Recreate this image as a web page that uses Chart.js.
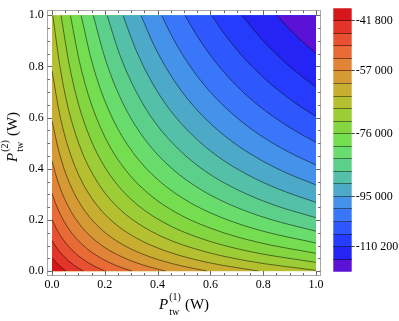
<!DOCTYPE html>
<html>
<head>
<meta charset="utf-8">
<script src="https://cdn.jsdelivr.net/npm/chart.js@4.4.1/dist/chart.umd.min.js"></script>
<style>
  html, body { margin: 0; padding: 0; background: #fff; }
  #wrap { position: relative; width: 399px; height: 321px; overflow: hidden; }
  #plot { position: absolute; left: 0; top: 0; }
  #legend { position: absolute; left: 325px; top: 0; }
  .title { position: absolute; font-family: 'Liberation Serif', 'Times New Roman', serif; font-size: 15px; color: #000; white-space: nowrap; line-height: 15px; }
  .title i { font-style: italic; }
  .scripts { position: relative; display: inline-block; width: 12px; height: 15px; margin-left: 1px; }
  .scripts span { position: absolute; left: 0; font-size: 10px; line-height: 11px; }
  .scripts .sup { top: -3px; }
  .scripts .sub { top: 12px; }
  #xt { left: 184px; top: 303px; transform: translate(-50%, -50%); }
  #yt { left: 11px; top: 137px; transform: translate(-50%, -50%) rotate(-90deg); }
</style>
</head>
<body>
<div id="wrap">
  <canvas id="plot" width="330" height="321"></canvas>
  <canvas id="legend" width="74" height="321"></canvas>
  <div class="title" id="xt"><i>P</i><span class="scripts"><span class="sup">(1)</span><span class="sub">tw</span></span> (W)</div>
  <div class="title" id="yt"><i>P</i><span class="scripts"><span class="sup">(2)</span><span class="sub">tw</span></span> (W)</div>
</div>
<script>
// ── Data ───────────────────────────────────────────────────────────────────
const xTicks = [0, 0.2, 0.4, 0.6, 0.8, 1];
const yTicks = [0, 0.2, 0.4, 0.6, 0.8, 1];
const valueRange = [-117800, -38000];
const barTicks = [-41800, -57000, -76000, -95000, -110200];
const levels = [-41800, -45600, -49400, -53200, -57000, -60800, -64600, -68400, -72200, -76000,
                -79800, -83600, -87400, -91200, -95000, -98800, -102600, -106400, -110200, -114000];

// one contour per level: points along the line (P1, P2)
const contourX = [
  [0, 0.0059, 0.0120, 0.0181, 0.0248, 0.0317, 0.0387, 0.0460, 0.0535],
  [0, 0.0113, 0.0233, 0.0366, 0.0512, 0.0668, 0.0835, 0.1011, 0.1195],
  [0, 0.0162, 0.0345, 0.0554, 0.0794, 0.1062, 0.1354, 0.1673, 0.2020],
  [0, 0.0208, 0.0453, 0.0745, 0.1093, 0.1496, 0.1955, 0.2466, 0.3039],
  [0, 0.0253, 0.0560, 0.0937, 0.1411, 0.1985, 0.2648, 0.3415, 0.4310],
  [0, 0.0295, 0.0662, 0.1134, 0.1750, 0.2523, 0.3448, 0.4558, 0.5885],
  [0, 0.0335, 0.0765, 0.1335, 0.2111, 0.3127, 0.4380, 0.5930, 0.7844],
  [0.0030, 0.0399, 0.0888, 0.1556, 0.2493, 0.3762, 0.5371, 0.7412, 1],
  [0.0342, 0.0743, 0.1263, 0.1955, 0.2900, 0.4145, 0.5688, 0.7617, 1],
  [0.0697, 0.1126, 0.1675, 0.2386, 0.3331, 0.4538, 0.6018, 0.7816, 1],
  [0.1102, 0.1558, 0.2127, 0.2852, 0.3787, 0.4953, 0.6347, 0.8011, 1],
  [0.1563, 0.2043, 0.2628, 0.3354, 0.4270, 0.5383, 0.6687, 0.8213, 1],
  [0.2088, 0.2583, 0.3180, 0.3896, 0.4780, 0.5823, 0.7030, 0.8416, 1],
  [0.2688, 0.3194, 0.3785, 0.4480, 0.5318, 0.6285, 0.7378, 0.8616, 1],
  [0.3370, 0.3872, 0.4447, 0.5110, 0.5885, 0.6764, 0.7737, 0.8812, 1],
  [0.4150, 0.4634, 0.5176, 0.5788, 0.6481, 0.7251, 0.8091, 0.9004, 1],
  [0.5033, 0.5486, 0.5979, 0.6517, 0.7117, 0.7771, 0.8468, 0.9210, 1],
  [0.6048, 0.6431, 0.6856, 0.7299, 0.7788, 0.8301, 0.8840, 0.9412, 1],
  [0.7194, 0.7499, 0.7814, 0.8138, 0.8492, 0.8848, 0.9223, 0.9611, 1],
  [0.8514, 0.8686, 0.8859, 0.9037, 0.9228, 0.9421, 0.9614, 0.9806, 1]
];
const contourY = [
  [0.0535, 0.0460, 0.0387, 0.0317, 0.0248, 0.0181, 0.0120, 0.0059, 0],
  [0.1195, 0.1011, 0.0835, 0.0668, 0.0512, 0.0366, 0.0233, 0.0113, 0],
  [0.2020, 0.1673, 0.1354, 0.1062, 0.0794, 0.0554, 0.0345, 0.0162, 0],
  [0.3039, 0.2466, 0.1955, 0.1496, 0.1093, 0.0745, 0.0453, 0.0208, 0],
  [0.4310, 0.3415, 0.2648, 0.1985, 0.1411, 0.0937, 0.0560, 0.0253, 0],
  [0.5885, 0.4558, 0.3448, 0.2523, 0.1750, 0.1134, 0.0662, 0.0295, 0],
  [0.7844, 0.5930, 0.4380, 0.3127, 0.2111, 0.1335, 0.0765, 0.0335, 0],
  [1, 0.7412, 0.5371, 0.3762, 0.2493, 0.1556, 0.0888, 0.0399, 0.0030],
  [1, 0.7617, 0.5688, 0.4145, 0.2900, 0.1955, 0.1263, 0.0743, 0.0342],
  [1, 0.7816, 0.6018, 0.4538, 0.3331, 0.2386, 0.1675, 0.1126, 0.0697],
  [1, 0.8011, 0.6347, 0.4953, 0.3787, 0.2852, 0.2127, 0.1558, 0.1102],
  [1, 0.8213, 0.6687, 0.5383, 0.4270, 0.3354, 0.2628, 0.2043, 0.1563],
  [1, 0.8416, 0.7030, 0.5823, 0.4780, 0.3896, 0.3180, 0.2583, 0.2088],
  [1, 0.8616, 0.7378, 0.6285, 0.5318, 0.4480, 0.3785, 0.3194, 0.2688],
  [1, 0.8812, 0.7737, 0.6764, 0.5885, 0.5110, 0.4447, 0.3872, 0.3370],
  [1, 0.9004, 0.8091, 0.7251, 0.6481, 0.5788, 0.5176, 0.4634, 0.4150],
  [1, 0.9210, 0.8468, 0.7771, 0.7117, 0.6517, 0.5979, 0.5486, 0.5033],
  [1, 0.9412, 0.8840, 0.8301, 0.7788, 0.7299, 0.6856, 0.6431, 0.6048],
  [1, 0.9611, 0.9223, 0.8848, 0.8492, 0.8138, 0.7814, 0.7499, 0.7194],
  [1, 0.9806, 0.9614, 0.9421, 0.9228, 0.9037, 0.8859, 0.8686, 0.8514]
];

// band colours, highest band (top of the legend) first
const bandColors = [
  'rgb(213,22,26)', 'rgb(226,52,40)', 'rgb(231,80,48)', 'rgb(232,107,54)', 'rgb(226,132,56)',
  'rgb(214,154,52)', 'rgb(200,174,48)', 'rgb(180,192,48)', 'rgb(156,204,54)', 'rgb(132,214,64)',
  'rgb(116,221,80)', 'rgb(104,220,108)', 'rgb(92,208,138)', 'rgb(84,192,168)', 'rgb(76,170,200)',
  'rgb(68,146,234)', 'rgb(58,118,250)', 'rgb(46,88,254)', 'rgb(38,60,252)', 'rgb(36,36,244)',
  'rgb(92,18,214)'
];

// ── Shared styles ──────────────────────────────────────────────────────────
const serif = "'Liberation Serif', 'Times New Roman', serif";
const lineColor = 'rgba(0,0,0,0.55)';
const frameColor = '#a8a8a8';
const tickColor = '#6a6a6a';

// contours that close on the left/bottom edges bound the high (inner) side
const innerCount = contourY.filter(ys => ys[0] < 1).length;

const contourSets = contourX.map((xs, j) => {
  const inner = j < innerCount;
  return {
    data: xs.map((x, i) => ({ x, y: contourY[j][i] })),
    backgroundColor: inner ? bandColors[j] : bandColors[j + 1],
    fill: inner ? { value: yTicks[0] } : { value: yTicks[yTicks.length - 1] },
    borderColor: lineColor,
    borderWidth: 0.9,
    tension: 0.35,
    pointRadius: 0,
    clip: -5,
    order: inner ? 50 + j : 50 - j
  };
});

// ── Plugins for the main panel ─────────────────────────────────────────────
const basePlugin = {
  id: 'base',
  beforeDatasetsDraw(chart) {
    const { ctx, scales: { x, y } } = chart;
    const x0 = x.getPixelForValue(xTicks[0]), x1 = x.getPixelForValue(xTicks[xTicks.length - 1]);
    const y0 = y.getPixelForValue(yTicks[0]), y1 = y.getPixelForValue(yTicks[yTicks.length - 1]);
    ctx.save();
    ctx.fillStyle = bandColors[innerCount];
    ctx.fillRect(x0, y1, x1 - x0, y0 - y1);
    ctx.restore();
  }
};

const framePlugin = {
  id: 'frame',
  afterDraw(chart) {
    const { ctx, chartArea: a, scales: { x, y } } = chart;
    const L = Math.round(a.left) + 0.5, R = Math.round(a.right) - 0.5;
    const T = Math.round(a.top) + 0.5, B = Math.round(a.bottom) - 0.5;
    ctx.save();
    ctx.lineWidth = 1;
    ctx.strokeStyle = frameColor;
    ctx.strokeRect(L, T, R - L, B - T);
    ctx.strokeStyle = tickColor;
    ctx.beginPath();
    const sub = 4, step = (xTicks[1] - xTicks[0]) / sub;
    const n = (xTicks.length - 1) * sub;
    for (let k = 0; k <= n; k++) {
      const v = xTicks[0] + k * step;
      const len = k % sub === 0 ? 4.5 : 2.5;
      const px = Math.round(x.getPixelForValue(v)) + 0.5;
      const py = Math.round(y.getPixelForValue(v)) + 0.5;
      ctx.moveTo(px, B); ctx.lineTo(px, B - len);
      ctx.moveTo(px, T); ctx.lineTo(px, T + len);
      ctx.moveTo(L, py); ctx.lineTo(L + len, py);
      ctx.moveTo(R, py); ctx.lineTo(R - len, py);
    }
    ctx.stroke();
    ctx.restore();
  }
};

const tickFont = { family: serif, size: 12 };

// ── Contour panel ──────────────────────────────────────────────────────────
new Chart(document.getElementById('plot'), {
  type: 'line',
  data: { datasets: contourSets },
  options: {
    responsive: false,
    animation: false,
    events: [],
    layout: { padding: { top: 3, right: 8.7, left: 0, bottom: 0 } },
    plugins: { legend: { display: false }, tooltip: { enabled: false } },
    scales: {
      x: {
        type: 'linear', min: -0.02, max: 1.02,
        afterFit: s => { s.height = 44.7; },
        afterBuildTicks: s => { s.ticks = xTicks.map(v => ({ value: v })); },
        ticks: { callback: v => v.toFixed(1), padding: 1, color: '#000', font: tickFont, maxRotation: 0, autoSkip: false },
        grid: { display: false, drawTicks: false },
        border: { display: false }
      },
      y: {
        type: 'linear', min: -0.02, max: 1.02,
        afterFit: s => { s.width = 46.7; },
        afterBuildTicks: s => { s.ticks = yTicks.map(v => ({ value: v })); },
        ticks: { callback: v => v.toFixed(1), padding: 3, color: '#000', font: tickFont, autoSkip: false },
        grid: { display: false, drawTicks: false },
        border: { display: false }
      }
    }
  },
  plugins: [basePlugin, framePlugin]
});

// ── Colour bar ─────────────────────────────────────────────────────────────
const edges = [valueRange[1], ...levels, valueRange[0]];
const fmt = v => String(v).replace(/(\d+)(\d{3})$/, '$1 $2');

new Chart(document.getElementById('legend'), {
  type: 'bar',
  data: {
    labels: [''],
    datasets: bandColors.map((c, i) => ({
      data: [[edges[i + 1], edges[i]]],
      backgroundColor: c,
      borderWidth: 0,
      grouped: false,
      barPercentage: 1,
      categoryPercentage: 1
    }))
  },
  options: {
    responsive: false,
    animation: false,
    events: [],
    layout: { padding: { left: 8.3, top: 3.3, right: 0, bottom: 49.3 } },
    plugins: { legend: { display: false }, tooltip: { enabled: false } },
    scales: {
      x: { display: false },
      y: {
        position: 'right', min: valueRange[0], max: valueRange[1],
        afterFit: s => { s.width = 47.3; },
        afterBuildTicks: s => { s.ticks = levels.map(v => ({ value: v })); },
        ticks: { callback: v => barTicks.includes(v) ? fmt(v) : '', padding: 1, color: '#000', font: tickFont, autoSkip: false },
        grid: {
          z: 1, drawOnChartArea: true, color: 'rgba(0,0,0,0.45)', lineWidth: 1, tickLength: 3,
          tickColor: ctx => barTicks.includes(ctx.tick && ctx.tick.value) ? '#444' : 'rgba(0,0,0,0)'
        },
        border: { display: false }
      }
    }
  }
});
</script>
</body>
</html>
